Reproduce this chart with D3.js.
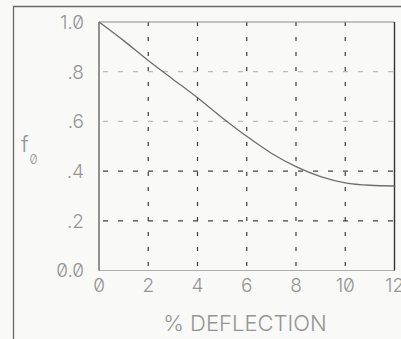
<!DOCTYPE html>
<html><head><meta charset="utf-8">
<script src="https://cdn.jsdelivr.net/npm/d3@7"></script>
<style>
html,body{margin:0;padding:0;background:#f9f9f7;}
svg{display:block;}
text{font-family:Inter,"Liberation Sans",sans-serif;font-feature-settings:"zero" 1;fill:#959595;}
</style></head>
<body>
<script>
const deflection = [0,1,2,3,4,5,6,7,8,9,10,11,12];
const f0 = [1.0,0.925,0.845,0.77,0.695,0.615,0.54,0.472,0.418,0.378,0.353,0.343,0.34];
const xTicks = [0,2,4,6,8,10,12];
const xTickLabels = ["0","2","4","6","8","10","12"];
const yTicks = [0,0.2,0.4,0.6,0.8,1.0];
const yTickLabels = ["0.0",".2",".4",".6",".8","1.0"];
const xTitle = "% DEFLECTION";
const yTitle = "f";
const yTitleSub = "0";

const W=401,H=339;
const svg=d3.select("body").append("svg").attr("width",W).attr("height",H);
const x=d3.scaleLinear().domain([0,12]).range([99,394.5]);
const y=d3.scaleLinear().domain([0,1]).range([270.5,22]);

// outer frame (open to right/bottom)
svg.append("path").attr("d","M13.5,339 V6.5 H401").attr("fill","none").attr("stroke","#6a6a6a").attr("stroke-width",1.3);

// horizontal gridlines
const g=svg.append("g");
g.selectAll("line.h").data(yTicks.filter(d=>d>0&&d<1)).enter().append("line")
 .attr("x1",x(0)).attr("x2",x(12)).attr("y1",d=>y(d)).attr("y2",d=>y(d))
 .attr("stroke",d=>d>=0.6?"#bcbcbc":"#444").attr("stroke-width",1.2)
 .attr("stroke-dasharray","5,10").attr("stroke-dashoffset",-4);
// vertical gridlines
g.selectAll("line.v").data(xTicks.filter(d=>d>0&&d<12)).enter().append("line")
 .attr("x1",d=>x(d)).attr("x2",d=>x(d)).attr("y1",y(1)).attr("y2",y(0))
 .attr("stroke","#3c3c3c").attr("stroke-width",1.2)
 .attr("stroke-dasharray","4,11");

// plot frame
svg.append("line").attr("x1",x(0)).attr("x2",x(12)).attr("y1",y(1)).attr("y2",y(1)).attr("stroke","#8a8a8a").attr("stroke-width",1);
svg.append("line").attr("x1",x(0)).attr("x2",x(12)).attr("y1",y(0)).attr("y2",y(0)).attr("stroke","#b0b0b0").attr("stroke-width",1);
svg.append("line").attr("x1",x(0)).attr("x2",x(0)).attr("y1",y(1)).attr("y2",y(0)).attr("stroke","#5a5a5a").attr("stroke-width",1.3);
svg.append("line").attr("x1",x(12)).attr("x2",x(12)).attr("y1",y(1)).attr("y2",y(0)).attr("stroke","#333").attr("stroke-width",1.4);

// curve
svg.append("path").datum(deflection.map((d,i)=>[d,f0[i]]))
 .attr("d",d3.line().x(d=>x(d[0])).y(d=>y(d[1])).curve(d3.curveMonotoneX))
 .attr("fill","none").attr("stroke","#6e6e6e").attr("stroke-width",1.3);

// y tick labels
svg.selectAll("text.yl").data(yTicks).enter().append("text")
 .attr("x",84).attr("y",d=>y(d)).attr("dy","0.36em").attr("text-anchor","end")
 .attr("font-size",19).attr("font-weight",300).text((d,i)=>yTickLabels[i]);
// x tick labels
svg.selectAll("text.xl").data(xTicks).enter().append("text")
 .attr("x",d=>x(d)).attr("y",285).attr("dy","0.36em").attr("text-anchor","middle")
 .attr("font-size",19).attr("font-weight",300).text((d,i)=>xTickLabels[i]);
// x title
svg.append("text").attr("x",245).attr("y",323).attr("dy","0.36em").attr("text-anchor","middle")
 .attr("font-size",22).attr("font-weight",300).text(xTitle);
// y title
const yt=svg.append("text").attr("x",21).attr("y",152).attr("font-size",22).attr("font-weight",300);
yt.append("tspan").text(yTitle);
yt.append("tspan").attr("dx",1).attr("dy",12).attr("font-size",13).text(yTitleSub);
</script>
</body></html>
